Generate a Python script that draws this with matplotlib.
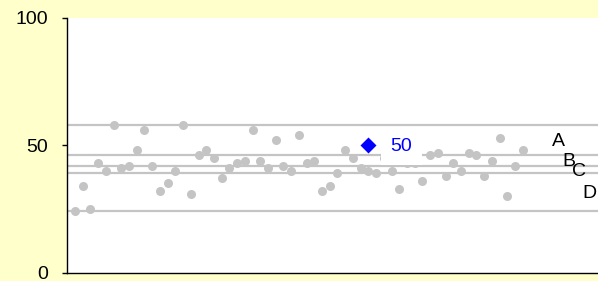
import numpy as np
import matplotlib
matplotlib.use("Agg")
import matplotlib.pyplot as plt

plt.rcParams['font.family'] = ['Liberation Sans', 'DejaVu Sans']

# gray scatter values, one per position
values = [24, 34, 25, 43, 40, 58, 41, 42, 48, 56,
          42, 32, 35, 40, 58, 31, 46, 48, 45, 37,
          41, 43, 44, 56, 44, 41, 52, 42, 40, 54,
          43, 44, 32, 34, 39, 48, 45, 41, 40, 39,
          45, 40, 33, 43, 43, 36, 46, 47, 38, 43,
          40, 47, 46, 38, 44, 53, 30, 42, 48]
positions = np.arange(len(values))

# reference lines
line_values = [58, 46, 42, 39, 24]

# highlighted point
hl_x = 38
hl_y = 50
hl_label = "50"

# labels at right side
side_labels = ["A", "B", "C", "D"]
side_x = [62.6, 64.0, 65.3, 66.7]
side_y = [51.3, 43.8, 39.6, 31.2]

yticks = [0, 50, 100]

fig = plt.figure(figsize=(5.98, 2.81), dpi=100, facecolor='#FFFFCC')
ax = fig.add_axes([0.112, 0.030, 0.888, 0.906])
ax.set_facecolor('white')

for v in line_values:
    ax.axhline(v, color='#C4C4C4', lw=1.6, zorder=1)

ax.plot(positions, values, 'o', color='#C4C4C4', ms=6.5, mec='none', zorder=2)

ax.plot([hl_x], [hl_y], 'D', color='#0000FF', ms=8.5, mec='none', zorder=4)
ax.annotate(hl_label, (hl_x, hl_y), xytext=(16, -1), textcoords='offset points',
            ha='left', va='center', color='#0000FF', fontsize=14,
            bbox=dict(boxstyle='square,pad=0.5', fc='white', ec='none'), zorder=5)

for lab, x, y in zip(side_labels, side_x, side_y):
    ax.text(x, y, lab, ha='center', va='center', fontsize=14, color='black', zorder=6)

ax.set_xlim(-1.04, 67.75)
ax.set_ylim(0, 100)
ax.set_yticks(yticks)
ax.set_xticks([])
ax.tick_params(axis='y', length=3.6, width=1, pad=10, labelsize=14, colors='black')
for s in ['top', 'right']:
    ax.spines[s].set_visible(False)
for s in ['left', 'bottom']:
    ax.spines[s].set_color('black')
    ax.spines[s].set_linewidth(1)

fig.savefig('out.png', dpi=100, facecolor=fig.get_facecolor())
